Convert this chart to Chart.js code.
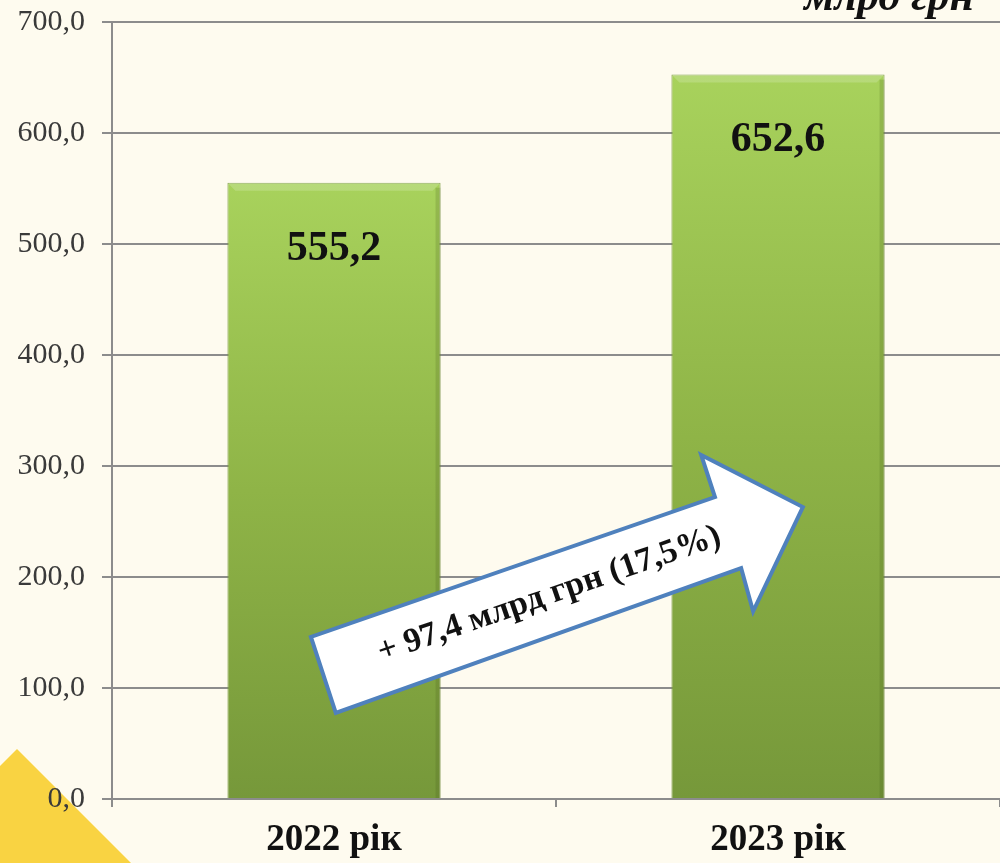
<!DOCTYPE html>
<html>
<head>
<meta charset="utf-8">
<script src="https://cdn.jsdelivr.net/npm/chart.js@4/dist/chart.umd.min.js"></script>
<style>
  html, body { margin: 0; padding: 0; background: #fefbef; }
  #wrap { position: relative; width: 1000px; height: 863px; }
</style>
</head>
<body>
<div id="wrap"><canvas id="financeChart" width="1000" height="863"></canvas></div>
<script>
// chart data
const years = ["2022 рік", "2023 рік"];
const revenue = [555.2, 652.6];
const unitLabel = "млрд грн";
const growthLabel = "+ 97,4 млрд грн (17,5%)";
// arrow outline in chart units: [category index, value]
const arrowShape = [
    [0.004, 77.6], [-0.052, 146], [0.858, 272], [0.827, 310],
    [1.056, 263], [0.944, 169], [0.917, 208]
];
const arrowTextAt = [0.485, 184];

const fmt = v => v.toFixed(1).replace(".", ",");
const SERIF = "'Liberation Serif', 'Times New Roman', serif";

/**
 * BAR GRADIENT
 */
function barGradient(ctx) {
    const chart = ctx.chart;
    const area = chart.chartArea;
    if (!area) return "#8fb347";
    const y = chart.scales.y;
    const top = y.getPixelForValue(ctx.raw ?? 0);
    const g = chart.ctx.createLinearGradient(0, top, 0, area.bottom);
    g.addColorStop(0, "#a8d25c");
    g.addColorStop(0.5, "#8fb447");
    g.addColorStop(1, "#76983a");
    return g;
}

// value labels inside bars + unit label + growth arrow + corner triangle
const decorPlugin = {
    id: "decor",
    afterDatasetsDraw(chart) {
        const { ctx, scales } = chart;
        const meta = chart.getDatasetMeta(0);
        ctx.save();
        // soft bevel on bars
        meta.data.forEach(bar => {
            const l = bar.x - bar.width / 2, r = bar.x + bar.width / 2;
            ctx.fillStyle = "rgba(255,255,255,0.18)";
            ctx.beginPath();
            ctx.moveTo(l, bar.y); ctx.lineTo(r, bar.y);
            ctx.lineTo(r - 8, bar.y + 8); ctx.lineTo(l + 8, bar.y + 8);
            ctx.closePath(); ctx.fill();
            ctx.fillStyle = "rgba(60,80,20,0.18)";
            ctx.fillRect(r - 5, bar.y + 5, 5, bar.base - bar.y - 5);
        });

        ctx.fillStyle = "#111";
        ctx.font = "bold 42px " + SERIF;
        ctx.textAlign = "center";
        ctx.textBaseline = "middle";
        meta.data.forEach((bar, i) => {
            ctx.fillText(fmt(revenue[i]), bar.x, bar.y + 66);
        });

        // unit label (cut at top like the source)
        ctx.font = "italic bold 44px " + SERIF;
        ctx.textAlign = "right";
        ctx.textBaseline = "alphabetic";
        ctx.fillText(unitLabel, 974, 10);

        // growth arrow
        const pts = arrowShape.map(([ix, v]) => [scales.x.getPixelForValue(ix), scales.y.getPixelForValue(v)]);
        ctx.beginPath();
        pts.forEach(([px, py], k) => k ? ctx.lineTo(px, py) : ctx.moveTo(px, py));
        ctx.closePath();
        ctx.fillStyle = "#ffffff";
        ctx.fill();
        ctx.lineWidth = 4;
        ctx.lineJoin = "miter";
        ctx.strokeStyle = "#4f81bd";
        ctx.stroke();

        const ang = Math.atan2(pts[2][1] - pts[1][1], pts[2][0] - pts[1][0]);
        ctx.translate(scales.x.getPixelForValue(arrowTextAt[0]), scales.y.getPixelForValue(arrowTextAt[1]));
        ctx.rotate(ang);
        ctx.fillStyle = "#111";
        ctx.font = "bold 34px " + SERIF;
        ctx.textAlign = "center";
        ctx.textBaseline = "middle";
        ctx.fillText(growthLabel, 0, 0);
        ctx.restore();

        // yellow corner triangle
        ctx.save();
        ctx.beginPath();
        ctx.moveTo(0, 766);
        ctx.lineTo(17, 749);
        ctx.lineTo(131, 863);
        ctx.lineTo(0, 863);
        ctx.closePath();
        ctx.fillStyle = "#f9d342";
        ctx.fill();
        ctx.restore();
    }
};

// the 0,0 label sits on top of the triangle
const relabelPlugin = {
    id: "relabel",
    afterDraw(chart) {
        const { ctx, scales } = chart;
        ctx.save();
        ctx.font = "30px " + SERIF;
        ctx.fillStyle = "#3a3a3a";
        ctx.textAlign = "right";
        ctx.textBaseline = "middle";
        ctx.fillText(fmt(0), 85, scales.y.getPixelForValue(0));
        ctx.restore();
    }
};

const noPad = s => { s.paddingTop = 0; s.paddingBottom = 0; s.paddingLeft = 0; s.paddingRight = 0; };

new Chart(document.getElementById("financeChart"), {
    type: "bar",
    data: {
        labels: years,
        datasets: [{
            data: revenue,
            backgroundColor: barGradient,
            borderColor: "#7a9a3e",
            borderWidth: 1,
            barPercentage: 0.96,
            categoryPercentage: 0.5
        }]
    },
    options: {
        responsive: false,
        animation: false,
        layout: { padding: { top: 22, right: 0, left: 0, bottom: 0 } },
        plugins: { legend: { display: false }, tooltip: { enabled: false } },
        scales: {
            x: {
                grid: { drawOnChartArea: false, color: "#8c8c8c", lineWidth: 2, tickLength: 8 },
                border: { color: "#8c8c8c", width: 2 },
                ticks: { color: "#111", font: { family: SERIF, size: 37, weight: "bold" }, padding: 11 },
                afterFit: s => { s.height = 64; noPad(s); }
            },
            y: {
                min: 0, max: 700,
                grid: { color: "#8c8c8c", lineWidth: 2, tickLength: 10 },
                border: { color: "#8c8c8c", width: 2 },
                ticks: {
                    stepSize: 100,
                    color: "#3a3a3a",
                    font: { family: SERIF, size: 30 },
                    padding: 17,
                    callback: v => v === 0 ? "" : fmt(v)
                },
                afterFit: s => { s.width = 112; noPad(s); }
            }
        }
    },
    plugins: [decorPlugin, relabelPlugin]
});
</script>
</body>
</html>
